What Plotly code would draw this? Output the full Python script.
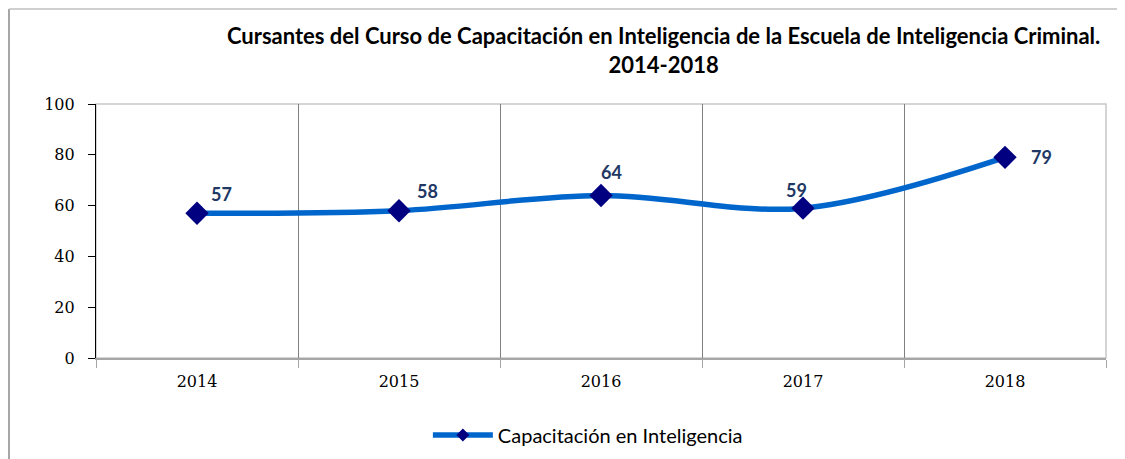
import plotly.graph_objects as go

years = ["2014", "2015", "2016", "2017", "2018"]
values = [57, 58, 64, 59, 79]
series_name = "Capacitación en Inteligencia"
title_text = "Cursantes del Curso de Capacitación en Inteligencia de la Escuela de Inteligencia Criminal.<br>2014-2018"

# label offsets (pixels) for each data label
label_dx = [24, 28, 10, -7, 36]
label_dy = [19, 20, 23, 18, 0]

W, H = 1117, 451  # page body has an 8px margin

fig = go.Figure()
fig.add_trace(go.Scatter(
    x=years, y=values, name=series_name, mode="lines+markers",
    line=dict(color="#0066CC", width=5.5, shape="spline", smoothing=1),
    marker=dict(symbol="diamond", size=18, color="#000080"),
    showlegend=False,
))
# legend entry (smaller marker like the original legend key)
fig.add_trace(go.Scatter(
    x=[None], y=[None], name=series_name, mode="lines+markers",
    line=dict(color="#0066CC", width=5.5),
    marker=dict(symbol="diamond", size=10, color="#000080"),
    showlegend=True,
))

for i, (v, dx, dy) in enumerate(zip(values, label_dx, label_dy)):
    fig.add_annotation(x=i, y=v, text="<b>%d</b>" % v, showarrow=False,
                       xshift=dx, yshift=dy,
                       font=dict(family="Lato, Open Sans, sans-serif", size=18, color="#1F3864"))

fig.update_layout(
    width=W, height=H,
    margin=dict(l=88, r=19, t=96, b=101, autoexpand=False),
    paper_bgcolor="white", plot_bgcolor="white",
    title=dict(text="<b>" + title_text + "</b>", xref="paper", x=0.562, xanchor="center",
               yref="container", y=1 - 36 / H, yanchor="top",
               font=dict(family="Lato, Open Sans, sans-serif", size=22, color="black")),
    xaxis=dict(type="category", range=[-0.5, 4.5], tickson="boundaries",
               showgrid=True, gridcolor="#808080", gridwidth=1,
               showline=True, linecolor="#A6A6A6", linewidth=1.5,
               ticks="outside", ticklen=8, tickcolor="#A6A6A6",
               ticklabelstandoff=8,
               tickfont=dict(family="DejaVu Serif, serif", size=16, color="black"),
               zeroline=False),
    yaxis=dict(range=[0, 100], dtick=20, showgrid=False, zeroline=False,
               showline=True, linecolor="black", linewidth=1.2,
               ticks="outside", ticklen=7, tickcolor="black",
               ticklabelstandoff=10,
               tickfont=dict(family="DejaVu Serif, serif", size=16, color="black")),
    legend=dict(orientation="h", x=0.487, y=-0.303, xanchor="center", yanchor="middle",
                itemwidth=60,
                font=dict(family="Lato, Open Sans, sans-serif", size=20, color="black")),
    shapes=[
        dict(type="rect", xref="paper", yref="paper", x0=0, x1=1, y0=0, y1=1,
             line=dict(color="#C8C8C8", width=1.5), layer="below"),
        dict(type="line", xref="paper", yref="paper", x0=(9 - 96) / 1010, x1=(9 - 96) / 1010,
             y0=(358 - 9) / 254, y1=(358 - 470) / 254, line=dict(color="#A6A6A6", width=2)),
        dict(type="line", xref="paper", yref="paper", x0=(9 - 96) / 1010, x1=(1130 - 96) / 1010,
             y0=(358 - 9) / 254, y1=(358 - 9) / 254, line=dict(color="#C0C0C0", width=1.5)),
    ],
)

fig.write_html("out.html")
